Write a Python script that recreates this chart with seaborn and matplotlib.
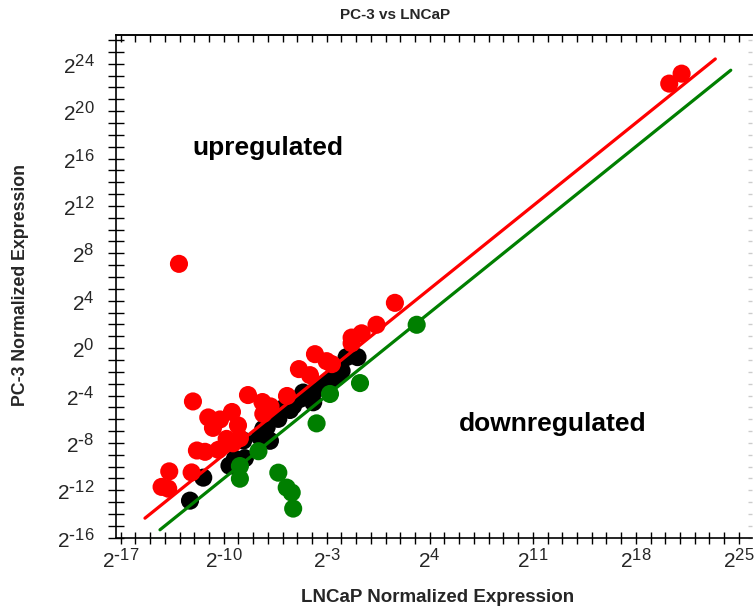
import matplotlib
matplotlib.use("Agg")
import matplotlib.pyplot as plt
import matplotlib._mathtext as mathtext_internals
import pandas as pd
import seaborn as sns
from matplotlib.ticker import FixedLocator, MultipleLocator, FuncFormatter, NullFormatter

# log2 normalized expression, upregulated genes (PC-3 > 2x LNCaP)
up_lncap = [-13.04, 20.27, 21.11, 1.63, 0.38, -0.63, -1.31, -1.31, -3.80, -3.01,
            -2.65, -4.89, -4.14, -5.70, -8.35, -7.37, -6.82, -7.31, -12.09, -11.05,
            -10.25, -10.73, -9.44, -9.03, -11.82, -11.27, -10.36, -9.37, -8.90, -12.18,
            -13.70, -14.22, -13.77, -9.80]
up_pc3 = [7.11, 22.32, 23.16, 3.82, 1.97, 1.25, 0.89, 0.41, -0.51, -1.10,
          -1.35, -1.77, -2.28, -4.04, -3.96, -4.55, -4.92, -5.55, -4.50, -5.85,
          -6.02, -6.73, -5.39, -6.52, -8.64, -8.75, -8.58, -8.03, -7.61, -10.49,
          -10.40, -11.71, -11.86, -7.66]

# unchanged genes
nc_lncap = [-12.29, -11.39, -9.61, -9.24, -8.56, -8.67, -7.54, -7.31, -6.86, -6.86,
            -6.06, -6.29, -5.50, -5.28, -4.82, -4.60, -4.14, -3.92, -3.69, -3.12,
            -2.65, -2.33, -1.99, -1.65, -0.91, -7.08]
nc_pc3 = [-12.87, -10.93, -9.92, -9.34, -9.29, -7.80, -7.49, -6.81, -7.82, -5.97,
          -5.13, -5.97, -5.22, -4.86, -4.29, -3.75, -4.02, -4.57, -3.45, -3.03,
          -2.70, -2.47, -1.92, -0.76, -0.76, -6.67]

# downregulated genes
dn_lncap = [3.11, -0.74, -2.78, -3.69, -7.64, -8.90, -8.90, -6.29, -5.72, -5.38, -5.28]
dn_pc3 = [1.97, -2.95, -3.87, -6.35, -8.70, -9.95, -11.02, -10.51, -11.77, -12.19, -13.54]

# fold-change boundaries (log2 of 2-fold) and their drawn extents
fold_log2 = 1.0
up_line_x = [-15.35, 23.40]
dn_line_x = [-14.33, 24.45]

x_tick_exps = [-17, -10, -3, 4, 11, 18, 25]
y_tick_exps = [-16, -12, -8, -4, 0, 4, 8, 12, 16, 20, 24]

sns.set_style("white")
plt.rcParams["font.family"] = ["Liberation Sans", "DejaVu Sans"]
plt.rcParams["mathtext.default"] = "regular"
# larger exponents in the power-of-two tick labels
mathtext_internals.SHRINK_FACTOR = 0.8

df = pd.concat([
    pd.DataFrame({"lncap": nc_lncap, "pc3": nc_pc3, "group": "unchanged"}),
    pd.DataFrame({"lncap": up_lncap, "pc3": up_pc3, "group": "up"}),
    pd.DataFrame({"lncap": dn_lncap, "pc3": dn_pc3, "group": "down"}),
], ignore_index=True)

palette = {"unchanged": "#000000", "up": "#ff0000", "down": "#007f00"}

fig = plt.figure(figsize=(7.54, 6.10), dpi=100)
ax = fig.add_axes([0.1538, 0.1175, 0.8435, 0.8251])

sns.scatterplot(data=df, x="lncap", y="pc3", hue="group", palette=palette,
                s=170, linewidth=0, alpha=1, legend=False, ax=ax, zorder=2)

lines = pd.concat([
    pd.DataFrame({"x": up_line_x, "y": [v + fold_log2 for v in up_line_x], "kind": "up"}),
    pd.DataFrame({"x": dn_line_x, "y": [v - fold_log2 for v in dn_line_x], "kind": "down"}),
], ignore_index=True)
sns.lineplot(data=lines, x="x", y="y", hue="kind", palette=palette, linewidth=2.3,
             legend=False, ax=ax, zorder=3, estimator=None, sort=False)

ax.set_xlim(-17.32, 25.89)
ax.set_ylim(-16.05, 26.42)


def pow2_label(v, pos):
    k = int(round(v))
    if k < 0:
        return r"$2^{\text{-}%d}$" % (-k)
    return "$2^{%d}$" % k


fmt = FuncFormatter(pow2_label)
ax.xaxis.set_major_locator(FixedLocator(x_tick_exps))
ax.xaxis.set_minor_locator(MultipleLocator(1))
ax.yaxis.set_major_locator(FixedLocator(y_tick_exps))
ax.yaxis.set_minor_locator(MultipleLocator(1))
ax.xaxis.set_major_formatter(fmt)
ax.yaxis.set_major_formatter(fmt)

ax.tick_params(axis="x", which="both", direction="inout", length=8, width=1,
               color="black", labelsize=15, pad=3, top=False, bottom=True)
ax.tick_params(axis="y", which="both", direction="inout", length=11, width=1,
               color="black", labelsize=15, pad=10, right=False, left=True)

for side in ("left", "bottom", "top"):
    ax.spines[side].set_color("black")
    ax.spines[side].set_linewidth(1.2)
ax.spines["right"].set_visible(False)

top = ax.secondary_xaxis("top")
top.xaxis.set_major_locator(FixedLocator(x_tick_exps))
top.xaxis.set_minor_locator(MultipleLocator(1))
top.xaxis.set_major_formatter(NullFormatter())
top.tick_params(which="both", direction="in", length=5, width=1, color="black")
top.spines["top"].set_linewidth(1.2)

right = ax.secondary_yaxis("right")
right.yaxis.set_major_locator(FixedLocator(y_tick_exps))
right.yaxis.set_minor_locator(MultipleLocator(1))
right.yaxis.set_major_formatter(NullFormatter())
right.tick_params(which="both", direction="in", length=3, width=1, color="#cccccc")
right.spines["right"].set_visible(False)

ax.set_xlabel("LNCaP Normalized Expression", fontsize=13.5, fontweight="bold")
ax.set_ylabel("PC-3 Normalized Expression", fontsize=12.8, fontweight="bold")
ax.xaxis.label.set_va("center")
ax.yaxis.label.set_va("center")
ax.xaxis.set_label_coords(0.505, -0.1166)
ax.yaxis.set_label_coords(-0.150, 0.503)

ax.text(0.4387, 1.0398, "PC-3 vs LNCaP", transform=ax.transAxes, ha="center",
        va="center", fontsize=11, fontweight="bold")

ax.text(-6.99, 16.88, "upregulated", ha="center", va="center", fontsize=19,
        fontweight="bold", color="black")
ax.text(12.37, -6.39, "downregulated", ha="center", va="center", fontsize=19,
        fontweight="bold", color="black")

fig.savefig("out.png", dpi=100)
